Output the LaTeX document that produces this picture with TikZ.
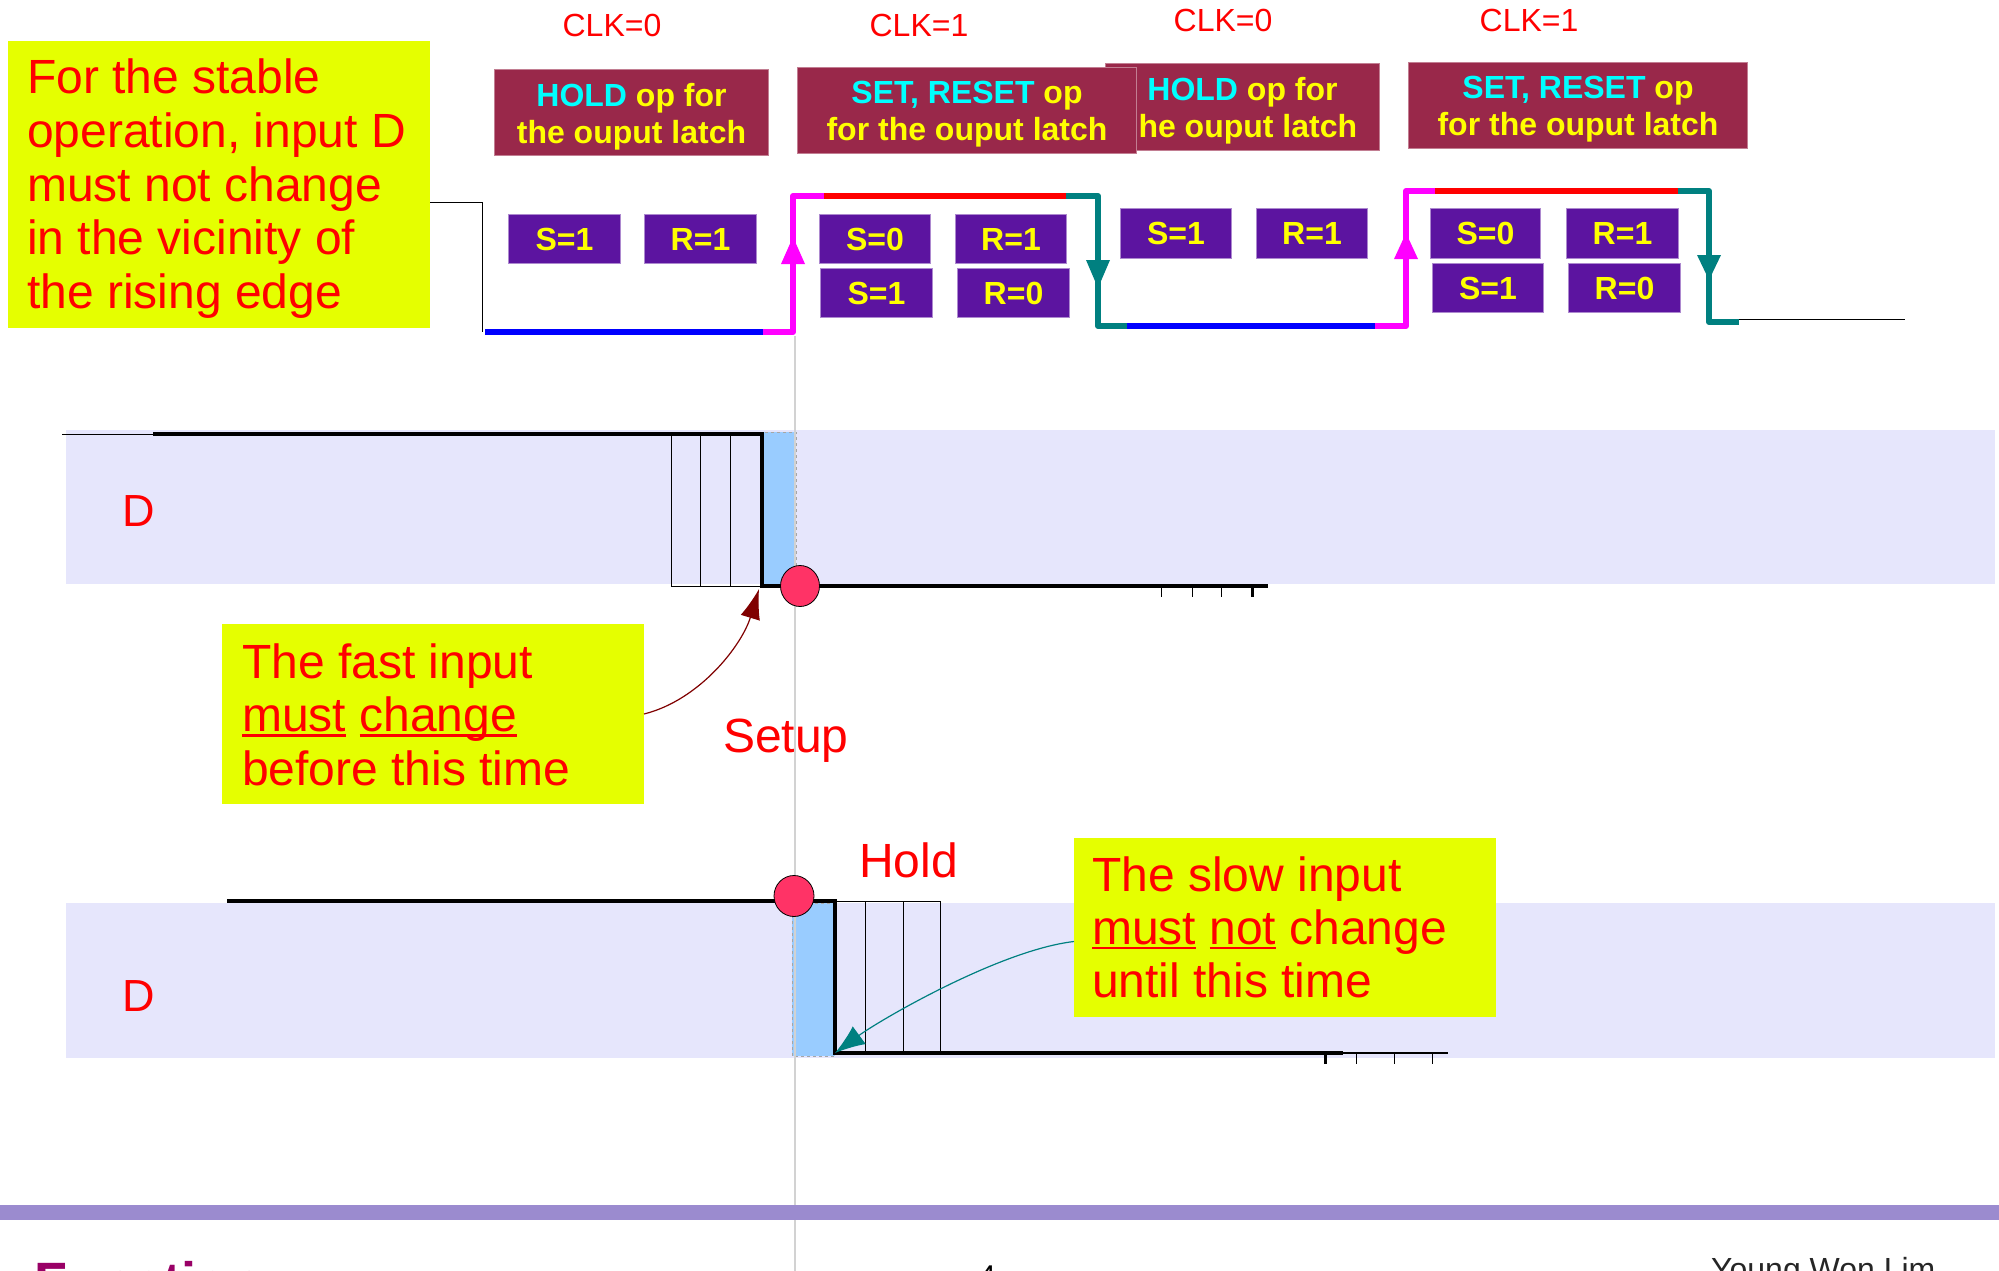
\documentclass[tikz,border=0pt]{standalone}
\usepackage{fontspec}
\setmainfont{Liberation Sans}
\usetikzlibrary{arrows.meta}
\definecolor{yel}{RGB}{229,255,0}
\definecolor{maroonc}{RGB}{153,40,74}
\definecolor{srpurple}{RGB}{92,20,160}
\definecolor{bandc}{RGB}{230,230,252}
\definecolor{lblue}{RGB}{153,204,255}
\definecolor{dotred}{RGB}{255,51,102}
\definecolor{barpurple}{RGB}{155,139,207}
\definecolor{tealc}{RGB}{0,128,128}
\definecolor{darkredc}{RGB}{128,0,0}
\definecolor{footpurple}{RGB}{153,0,102}
\definecolor{magc}{RGB}{255,0,255}
\definecolor{cyanc}{RGB}{0,255,255}
\definecolor{yelc}{RGB}{255,255,0}
\definecolor{redc}{RGB}{255,0,0}
\definecolor{bluec}{RGB}{0,0,255}
\newcommand\myul[1]{\setbox0\hbox{#1}\rlap{\rule[-5pt]{\wd0}{2.5pt}}\box0\relax}
\begin{document}
\begin{tikzpicture}[x=1pt,y=-1pt,
  ybox/.style={fill=yel, inner sep=0pt, outer sep=0pt, anchor=north west},
  bigtxt/.style={font=\fontsize{48}{54}\selectfont, text=redc, inner sep=0pt, anchor=base west},
  mbox/.style={fill=maroonc, draw=maroonc!60!white, line width=1pt, inner sep=0pt, anchor=north west},
  mtext/.style={inner sep=0pt, align=center, font=\bfseries\fontsize{32}{37}\selectfont, text=yelc},
  srbox/.style={fill=srpurple, draw=srpurple!50!white, line width=1pt, inner sep=0pt, anchor=north west, font=\bfseries\fontsize{32}{38}\selectfont, text=yelc},
  clk/.style={font=\fontsize{32}{38}\selectfont, text=redc, inner sep=0pt, anchor=base},
  wave/.style={line width=6pt, line join=round},
  sig/.style={line width=4pt},
  hatch/.style={line width=1pt},
  dot/.style={fill=dotred, draw=black, line width=0.8pt},
  blueregion/.style={fill=lblue, draw=gray!70, line width=1pt, dash pattern=on 3pt off 3pt},
]
\useasboundingbox (0,0) rectangle (1999,1271);
\clip (0,0) rectangle (1999,1271);
\fill[white] (0,0) rectangle (1999,1271);

% ---------- top: clock labels ----------
\node[clk] (clk1) at (612,37) {CLK=0};
\node[clk] (clk2) at (919,37) {CLK=1};
\node[clk] (clk3) at (1223,32) {CLK=0};
\node[clk] (clk4) at (1529,32) {CLK=1};

% ---------- maroon operation boxes ----------
\node[mbox, minimum width=274pt, minimum height=86pt] (op1) at (494,69) {};
\node[mtext] (op1t) at ([yshift=-4pt]op1.center) {\textcolor{cyanc}{HOLD} op for\\the ouput latch};
\node[mbox, minimum width=274pt, minimum height=87pt] (op3) at (1105,63) {};
\node[mtext] (op3t) at ([yshift=-4pt]op3.center) {\textcolor{cyanc}{HOLD} op for\\\phantom{t}he ouput latch};
\node[mbox, minimum width=339pt, minimum height=86pt] (op2) at (797,67) {};
\node[mtext] (op2t) at ([yshift=-4pt]op2.center) {\textcolor{cyanc}{SET, RESET} op\\for the ouput latch};
\node[mbox, minimum width=339pt, minimum height=86pt] (op4) at (1408,62) {};
\node[mtext] (op4t) at ([yshift=-4pt]op4.center) {\textcolor{cyanc}{SET, RESET} op\\for the ouput latch};

% ---------- S/R boxes ----------
\node[srbox, minimum width=112pt, minimum height=49pt] (sa) at (508,214) {S=1};
\node[srbox, minimum width=112pt, minimum height=49pt] (ra) at (644,214) {R=1};
\node[srbox, minimum width=111pt, minimum height=49pt] (sb1) at (819,214) {S=0};
\node[srbox, minimum width=111pt, minimum height=49pt] (rb1) at (955,214) {R=1};
\node[srbox, minimum width=112pt, minimum height=49pt] (sb2) at (820,268) {S=1};
\node[srbox, minimum width=112pt, minimum height=49pt] (rb2) at (957,268) {R=0};
\node[srbox, minimum width=111pt, minimum height=50pt] (sc) at (1120,208) {S=1};
\node[srbox, minimum width=111pt, minimum height=50pt] (rc) at (1256,208) {R=1};
\node[srbox, minimum width=110pt, minimum height=50pt] (sd1) at (1430,208) {S=0};
\node[srbox, minimum width=112pt, minimum height=50pt] (rd1) at (1566,208) {R=1};
\node[srbox, minimum width=111pt, minimum height=49pt] (sd2) at (1432,263) {S=1};
\node[srbox, minimum width=112pt, minimum height=49pt] (rd2) at (1568,263) {R=0};

% ---------- yellow note: stable operation ----------
\node[ybox, minimum width=422pt, minimum height=287pt] (stablebox) at (8,41) {};
\node[bigtxt] (st1) at (27,94) {For the stable};
\node[bigtxt] (st2) at (27,147.5) {operation, input D};
\node[bigtxt] (st3) at (27,201) {must not change};
\node[bigtxt] (st4) at (27,254.5) {in the vicinity of};
\node[bigtxt] (st5) at (27,308) {the rising edge};

% ---------- clock waveform ----------
\draw[line width=1pt] (430,202) -- (482,202) -- (482,332);
\draw[wave, bluec] (485,332) -- (766,332);
\draw[wave, magc] (763,332) -- (793,332) -- (793,196) -- (826,196);
\draw[wave, redc] (824,196) -- (1068,196);
\draw[wave, tealc] (1066,196) -- (1098,196) -- (1098,326) -- (1129,326);
\draw[wave, bluec] (1127,326) -- (1377,326);
\draw[wave, magc] (1375,326) -- (1406,326) -- (1406,191) -- (1437,191);
\draw[wave, redc] (1435,191) -- (1680,191);
\draw[wave, tealc] (1678,191) -- (1709,191) -- (1709,322) -- (1739,322);
\draw[line width=1pt] (1739,319) -- (1905,319);
\fill[magc] (793,237) -- (781,264) -- (805,264) -- cycle;
\fill[tealc] (1098,288) -- (1086,260) -- (1110,260) -- cycle;
\fill[magc] (1406,233) -- (1394,259) -- (1418,259) -- cycle;
\fill[tealc] (1709,280) -- (1697,255) -- (1721,255) -- cycle;

% ---------- D bands ----------
\fill[bandc] (66,430) rectangle (1995,584);
\fill[bandc] (66,903) rectangle (1995,1058);
\node[font=\fontsize{45}{50}\selectfont, text=redc, inner sep=0pt, anchor=base west] (d1) at (122,526) {D};
\node[font=\fontsize{45}{50}\selectfont, text=redc, inner sep=0pt, anchor=base west] (d2) at (122,1011) {D};

% row 1 (setup)
\draw[blueregion] (762,432) rectangle (796,587);
\draw[hatch] (671,434) -- (671,586) (700,434) -- (700,586) (730,434) -- (730,586) (671,586) -- (762,586);
\draw[line width=0.8pt] (62,434) -- (153,434);
\draw[sig] (153,434) -- (762,434) -- (762,586) -- (1268,586);
\draw[hatch] (1161,586) -- (1161,597) (1192,586) -- (1192,597) (1221,586) -- (1221,597);
\draw[line width=3pt] (1252,586) -- (1252,597);

% row 2 (hold)
\draw[blueregion] (792,903) rectangle (835,1056);
\draw[hatch] (835,901) -- (940,901) (865,901) -- (865,1053) (903,901) -- (903,1053) (940,901) -- (940,1053);
\draw[sig] (227,901) -- (835,901) -- (835,1053) -- (1343,1053);
\draw[line width=1.2pt] (1343,1053) -- (1448,1053);
\draw[hatch] (1356,1053) -- (1356,1064) (1394,1053) -- (1394,1064) (1432,1053) -- (1432,1064);
\draw[line width=3pt] (1325,1053) -- (1325,1064);

% time reference line
\draw[gray!35, line width=1.5pt] (795,336) -- (795,1271);

% dots
\draw[dot] (800,586) ellipse [x radius=19.5pt, y radius=20.5pt];
\draw[dot] (794,896) ellipse [x radius=20pt, y radius=20.5pt];

% labels
\node[bigtxt] (setup) at (723,752) {Setup};
\node[bigtxt] (hold) at (859,877) {Hold};

% ---------- yellow note: fast input ----------
\node[ybox, minimum width=422pt, minimum height=180pt] (fastbox) at (222,624) {};
\node[bigtxt] (fa1) at (242,678) {The fast input};
\node[bigtxt] (fa2) at (242,731.5) {\myul{must} \myul{change}};
\node[bigtxt] (fa3) at (242,785) {before this time};

% ---------- yellow note: slow input ----------
\node[ybox, minimum width=422pt, minimum height=179pt] (slowbox) at (1074,838) {};
\node[bigtxt] (sl1) at (1092,891) {The slow input};
\node[bigtxt] (sl2) at (1092,944) {\myul{must} \myul{not} change};
\node[bigtxt] (sl3) at (1092,997) {until this time};

% ---------- connectors ----------
\coordinate (setuptip) at (759,589);
\coordinate (holdtip) at (835,1053);
\draw[darkredc, line width=1.2pt, -{Latex[length=30pt,width=20pt]}] (fastbox.east) .. controls (700,700) and (742,645) .. (setuptip);
\draw[tealc, line width=1.2pt, -{Latex[length=30pt,width=22pt]}] ([yshift=-14pt]slowbox.west) .. controls (1000,950) and (880,1020) .. (holdtip);

% ---------- footer ----------
\fill[barpurple] (0,1205) rectangle (1999,1220);
\node[font=\bfseries\fontsize{54}{60}\selectfont, text=footpurple, inner sep=0pt, anchor=base west] (foottitle) at (34,1300) {Function};
\node[font=\fontsize{30}{34}\selectfont, text=black, inner sep=0pt, anchor=base west] (pagenum) at (979,1286) {4};
\node[font=\fontsize{32}{36}\selectfont, text=black!85, inner sep=0pt, anchor=base west] (author) at (1711,1280) {Young Won Lim};
\end{tikzpicture}
\end{document}
